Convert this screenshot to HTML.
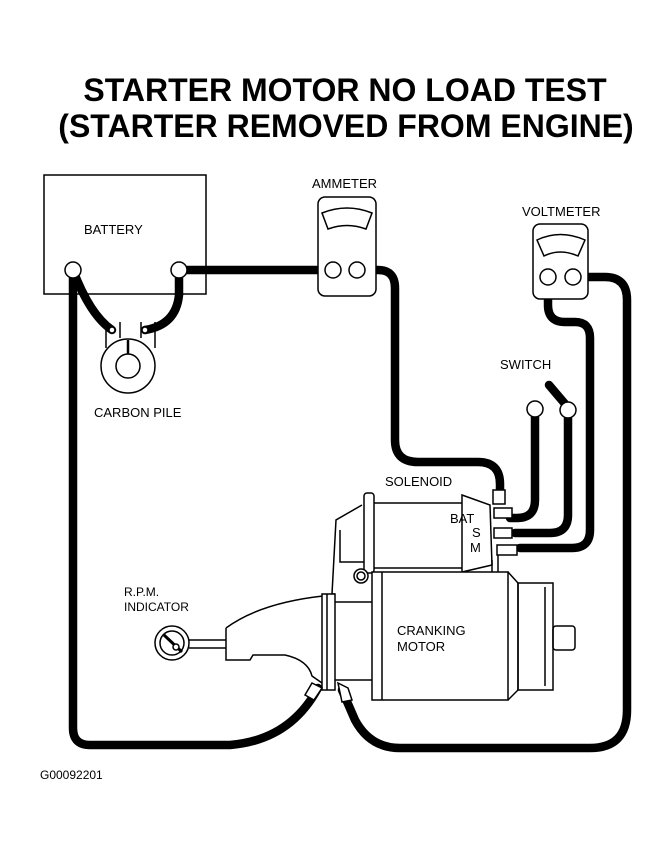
<!DOCTYPE html><html><head><style>body{margin:0;background:#fff}svg{display:block}text{font-family:"Liberation Sans",sans-serif}</style></head><body>
<svg width="670" height="854" viewBox="0 0 670 854" xmlns="http://www.w3.org/2000/svg">
<text x="345" y="101" font-size="32" font-weight="bold" text-anchor="middle">STARTER MOTOR NO LOAD TEST</text>
<text x="346" y="137" font-size="32" font-weight="bold" text-anchor="middle">(STARTER REMOVED FROM ENGINE)</text>
<g fill="none" stroke="#000" stroke-width="8.5" stroke-linecap="round">
<path d="M179,270 H333"/>
<path d="M362,270 H378 Q395,270 395,288 V440 Q395,462 418,462 H478 Q500,462 500,484 V492"/>
<path d="M548,277 V305 Q548,322 565,322 H575 Q590,322 590,338 V530 Q590,548 572,548 H520"/>
<path d="M573,277 H605 Q627,277 627,300 V710 Q627,748 590,748 H400 Q370,748 355,720 L342,690"/>
<path d="M535,410 V500 Q535,518 517,518 H510"/>
<path d="M568,412 V515 Q568,533 550,533 H515"/>
<path d="M549,385 L566,405"/>
<path d="M73,270 V728 Q73,745 90,745 H230 Q290,740 318,688"/>
<path d="M73,270 Q90,315 112,330"/>
<path d="M179,270 V295 Q176,325 145,330"/>
</g>
<g fill="none" stroke="#000" stroke-width="1.5">
<rect x="44" y="175" width="162" height="119" fill="none"/>
<rect x="318" y="197" width="58" height="99" rx="7" fill="#fff"/>
<path d="M322,213 Q347,203 372,213 L366,229 Q347,222 328,229 Z"/>
<rect x="533" y="224" width="55" height="75" rx="7" fill="#fff"/>
<path d="M537,240 Q560,229 585,240 L578,256 Q560,248 544,256 Z"/>
<path d="M106,322 V348 M120,322 V338 M141,322 V338 M155,322 V348"/>
<circle cx="128" cy="366" r="27" fill="#fff"/>
<circle cx="128" cy="366" r="12"/>
<path d="M128,340 V354" stroke-width="2.5"/>
<path d="M362,505 L336,520 L332,594 L335,594 M340,530 V562 L364,562"/>
<path d="M374,503 H462 M374,568 H462"/>
<rect x="364" y="493" width="10" height="80" rx="3" fill="#fff"/>
<path d="M462,495 L490,505 L492,565 L462,572 Z" fill="#fff"/>
<path d="M492,560 V572" />
<circle cx="361" cy="576" r="7" fill="#fff"/><circle cx="361" cy="576" r="4"/>
<rect x="372" y="572" width="136" height="128" fill="#fff"/>
<path d="M382,572 V700"/>
<path d="M508,572 L518,583 V690 L508,700"/>
<rect x="518" y="583" width="35" height="107"/>
<path d="M545,587 V686"/>
<rect x="553" y="626" width="22" height="24" rx="3"/>
<path d="M226,628 Q260,603 323,596 M226,628 V660 H250 L253,655 H285 Q308,660 312,676 L322,683"/>
<rect x="322" y="594" width="13" height="96" fill="#fff"/>
<path d="M327,594 V690 M335,602 H372 M335,680 H372"/>
<circle cx="172" cy="643" r="17"/><circle cx="172" cy="643" r="12"/>
<path d="M189,640 H226 M189,648 H226"/>
<path d="M164,635 L182,652" stroke-width="3"/><circle cx="176" cy="647" r="3" fill="#fff"/>
</g>
<g fill="#fff" stroke="#000" stroke-width="1.5">
<circle cx="73" cy="270" r="8"/><circle cx="179" cy="270" r="8"/>
<circle cx="333" cy="270" r="8"/><circle cx="357" cy="270" r="8"/>
<circle cx="548" cy="277" r="8"/><circle cx="573" cy="277" r="8"/>
<circle cx="535" cy="409" r="8"/><circle cx="568" cy="410" r="8"/>
<circle cx="112" cy="330" r="3"/><circle cx="145" cy="330" r="3"/>
<rect x="493" y="490" width="12" height="14"/>
<rect x="494" y="508" width="18" height="10"/>
<rect x="494" y="528" width="18" height="10"/>
<rect x="497" y="545" width="20" height="10"/>
<path d="M312,683 L322,688 L314,700 L305,695 Z"/>
<path d="M338,683 L348,688 L352,700 L342,702 Z"/>
</g>
<path d="M498,555 V572" stroke="#000" stroke-width="1.5"/>
<g font-size="13">
<text x="84" y="234">BATTERY</text>
<text x="312" y="188">AMMETER</text>
<text x="522" y="216">VOLTMETER</text>
<text x="500" y="369">SWITCH</text>
<text x="94" y="417">CARBON PILE</text>
<text x="385" y="486">SOLENOID</text>
<text x="450" y="523">BAT</text>
<text x="472" y="537">S</text>
<text x="470" y="552">M</text>
<text x="397" y="635">CRANKING</text>
<text x="397" y="651">MOTOR</text>
<text x="124" y="596" font-size="12">R.P.M.</text>
<text x="124" y="611" font-size="12">INDICATOR</text>
<text x="40" y="779" font-size="12">G00092201</text>
</g>
</svg></body></html>
